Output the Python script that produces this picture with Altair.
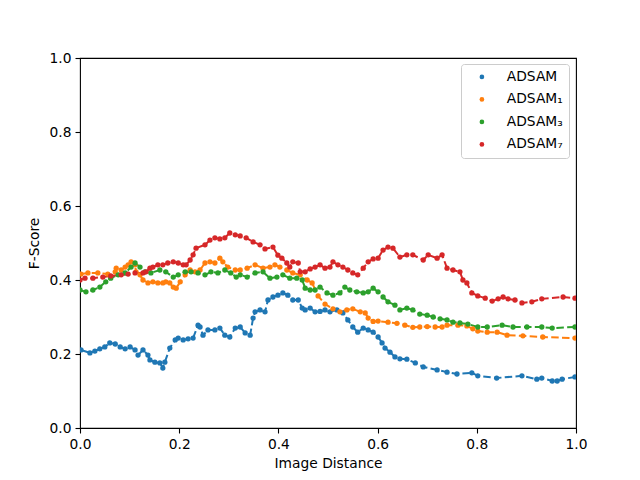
import altair as alt
import pandas as pd

SERIES = ["ADSAM", "ADSAM₁", "ADSAM₃", "ADSAM₇"]
COLORS = ["#1f77b4", "#ff7f0e", "#2ca02c", "#d62728"]

blue_x = [0.002, 0.020, 0.030, 0.040, 0.050, 0.060, 0.071, 0.081, 0.091, 0.101, 0.111, 0.117, 0.127, 0.137,
          0.141, 0.151, 0.161, 0.167, 0.171, 0.181, 0.192, 0.198, 0.208, 0.218, 0.228, 0.238, 0.242, 0.248,
          0.258, 0.272, 0.282, 0.292, 0.302, 0.313, 0.323, 0.333, 0.343, 0.349, 0.353, 0.363, 0.373, 0.379,
          0.389, 0.399, 0.409, 0.419, 0.429, 0.440, 0.448, 0.454, 0.464, 0.474, 0.484, 0.494, 0.504, 0.518,
          0.530, 0.540, 0.550, 0.560, 0.571, 0.581, 0.591, 0.601, 0.609, 0.615, 0.625, 0.635, 0.645, 0.659,
          0.676, 0.692, 0.720, 0.740, 0.760, 0.790, 0.802, 0.840, 0.891, 0.921, 0.931, 0.952, 0.962, 0.972, 0.998]
blue_y = [0.211, 0.203, 0.208, 0.214, 0.219, 0.230, 0.227, 0.219, 0.214, 0.219, 0.211, 0.197, 0.211, 0.197,
          0.184, 0.178, 0.176, 0.162, 0.178, 0.216, 0.238, 0.243, 0.238, 0.241, 0.243, 0.278, 0.273, 0.251,
          0.265, 0.265, 0.270, 0.251, 0.246, 0.270, 0.273, 0.257, 0.251, 0.297, 0.314, 0.319, 0.314, 0.346,
          0.354, 0.359, 0.365, 0.359, 0.346, 0.346, 0.324, 0.319, 0.324, 0.314, 0.315, 0.319, 0.314, 0.319,
          0.311, 0.292, 0.273, 0.259, 0.270, 0.265, 0.259, 0.246, 0.230, 0.216, 0.205, 0.192, 0.187, 0.186,
          0.176, 0.165, 0.157, 0.151, 0.146, 0.149, 0.141, 0.135, 0.141, 0.132, 0.135, 0.127, 0.127, 0.132, 0.138]

orange_x = [0.002, 0.016, 0.036, 0.056, 0.071, 0.073, 0.083, 0.091, 0.097, 0.103, 0.111, 0.113, 0.121, 0.127,
            0.137, 0.147, 0.157, 0.167, 0.173, 0.181, 0.188, 0.194, 0.202, 0.212, 0.222, 0.232, 0.242, 0.252,
            0.262, 0.272, 0.282, 0.288, 0.298, 0.313, 0.323, 0.337, 0.353, 0.369, 0.383, 0.393, 0.403, 0.417,
            0.429, 0.444, 0.458, 0.468, 0.480, 0.494, 0.510, 0.524, 0.538, 0.550, 0.565, 0.575, 0.581, 0.591,
            0.601, 0.621, 0.639, 0.655, 0.671, 0.685, 0.700, 0.716, 0.730, 0.740, 0.762, 0.780, 0.792, 0.802,
            0.821, 0.841, 0.861, 0.893, 0.933, 0.998]
orange_y = [0.416, 0.419, 0.419, 0.416, 0.422, 0.432, 0.427, 0.435, 0.441, 0.449, 0.441, 0.422, 0.414, 0.400,
            0.392, 0.395, 0.392, 0.392, 0.395, 0.392, 0.381, 0.378, 0.395, 0.414, 0.427, 0.422, 0.427, 0.446,
            0.449, 0.446, 0.459, 0.449, 0.435, 0.427, 0.427, 0.432, 0.441, 0.432, 0.435, 0.441, 0.435, 0.427,
            0.419, 0.414, 0.400, 0.392, 0.357, 0.335, 0.322, 0.314, 0.319, 0.322, 0.314, 0.311, 0.297, 0.288,
            0.289, 0.286, 0.283, 0.278, 0.272, 0.273, 0.274, 0.273, 0.273, 0.278, 0.278, 0.276, 0.268, 0.262,
            0.259, 0.259, 0.251, 0.249, 0.246, 0.243]

green_x = [0.000, 0.012, 0.026, 0.040, 0.052, 0.062, 0.077, 0.091, 0.103, 0.111, 0.121, 0.131, 0.143, 0.161,
           0.173, 0.188, 0.198, 0.212, 0.224, 0.238, 0.252, 0.264, 0.278, 0.292, 0.304, 0.315, 0.323, 0.337,
           0.353, 0.369, 0.383, 0.397, 0.409, 0.423, 0.437, 0.448, 0.454, 0.464, 0.474, 0.484, 0.498, 0.510,
           0.524, 0.534, 0.544, 0.558, 0.571, 0.581, 0.591, 0.601, 0.611, 0.621, 0.635, 0.645, 0.659, 0.671,
           0.685, 0.700, 0.712, 0.726, 0.740, 0.752, 0.766, 0.782, 0.802, 0.821, 0.851, 0.873, 0.901, 0.931,
           0.952, 0.998]
green_y = [0.373, 0.368, 0.373, 0.381, 0.395, 0.405, 0.414, 0.419, 0.435, 0.446, 0.435, 0.422, 0.419, 0.427,
           0.422, 0.408, 0.414, 0.422, 0.422, 0.419, 0.414, 0.422, 0.419, 0.427, 0.419, 0.408, 0.414, 0.408,
           0.419, 0.422, 0.405, 0.408, 0.414, 0.405, 0.405, 0.400, 0.378, 0.373, 0.373, 0.381, 0.365, 0.359,
           0.365, 0.381, 0.373, 0.368, 0.365, 0.368, 0.378, 0.368, 0.354, 0.341, 0.332, 0.319, 0.324, 0.319,
           0.308, 0.305, 0.300, 0.295, 0.292, 0.286, 0.284, 0.281, 0.273, 0.273, 0.278, 0.273, 0.273, 0.273,
           0.270, 0.273]

red_x = [0.000, 0.010, 0.026, 0.046, 0.062, 0.083, 0.097, 0.111, 0.127, 0.133, 0.141, 0.147, 0.157, 0.167,
         0.177, 0.188, 0.198, 0.208, 0.214, 0.222, 0.228, 0.234, 0.252, 0.262, 0.272, 0.282, 0.292, 0.302,
         0.313, 0.323, 0.335, 0.349, 0.363, 0.373, 0.389, 0.399, 0.407, 0.417, 0.423, 0.429, 0.440, 0.444,
         0.454, 0.464, 0.474, 0.484, 0.494, 0.504, 0.510, 0.520, 0.530, 0.540, 0.550, 0.560, 0.571, 0.581,
         0.591, 0.601, 0.611, 0.621, 0.631, 0.645, 0.659, 0.671, 0.692, 0.702, 0.720, 0.730, 0.740, 0.752,
         0.766, 0.772, 0.780, 0.790, 0.802, 0.817, 0.831, 0.843, 0.853, 0.863, 0.877, 0.891, 0.911, 0.931,
         0.974, 0.998]
red_y = [0.400, 0.405, 0.405, 0.408, 0.411, 0.414, 0.416, 0.419, 0.419, 0.422, 0.432, 0.435, 0.441, 0.441,
         0.446, 0.449, 0.446, 0.441, 0.441, 0.454, 0.468, 0.486, 0.495, 0.508, 0.514, 0.511, 0.514, 0.527,
         0.522, 0.519, 0.514, 0.503, 0.495, 0.484, 0.489, 0.467, 0.459, 0.446, 0.435, 0.449, 0.446, 0.422,
         0.422, 0.430, 0.435, 0.441, 0.432, 0.435, 0.449, 0.441, 0.435, 0.427, 0.419, 0.414, 0.432, 0.449,
         0.457, 0.459, 0.481, 0.489, 0.486, 0.462, 0.468, 0.468, 0.454, 0.468, 0.459, 0.468, 0.432, 0.427,
         0.422, 0.400, 0.392, 0.365, 0.357, 0.351, 0.343, 0.349, 0.354, 0.349, 0.346, 0.338, 0.341, 0.349,
         0.354, 0.351]

TICKS = [0.0, 0.2, 0.4, 0.6, 0.8, 1.0]

rows = []
for name, xs, ys in zip(SERIES, [blue_x, orange_x, green_x, red_x], [blue_y, orange_y, green_y, red_y]):
    for a, b in zip(xs, ys):
        rows.append({"series": name, "x": a, "y": b})
df = pd.DataFrame(rows)

font = "DejaVu Sans"
xenc = alt.X("x:Q", scale=alt.Scale(domain=[0, 1], nice=False, zero=False),
             axis=alt.Axis(title="Image Distance", values=TICKS, format=".1f"))
yenc = alt.Y("y:Q", scale=alt.Scale(domain=[0, 1], nice=False, zero=False),
             axis=alt.Axis(title="F-Score", values=TICKS, format=".1f"))

lines = alt.Chart(df).mark_line(strokeDash=[7.5, 3.3], strokeWidth=2, clip=True).encode(
    x=xenc, y=yenc,
    stroke=alt.Stroke("series:N", scale=alt.Scale(domain=SERIES, range=COLORS), legend=None),
    order="x:Q",
)
points = alt.Chart(df).mark_circle(size=28, opacity=1, clip=True).encode(
    x=xenc, y=yenc,
    color=alt.Color("series:N", scale=alt.Scale(domain=SERIES, range=COLORS), sort=SERIES,
                    legend=alt.Legend(title=None, orient="none", legendX=381, legendY=6,
                                      symbolType="circle", symbolSize=22, labelFontSize=13.8,
                                      labelFont=font, rowPadding=7.5, padding=6, symbolOffset=8,
                                      labelOffset=18, strokeColor="#cccccc", cornerRadius=3,
                                      fillColor="rgba(255,255,255,0.8)")),
)

chart = alt.layer(lines, points).resolve_scale(color="independent", stroke="independent").properties(
    width=496, height=370,
    autosize=alt.AutoSizeParams(type="none"),
    padding={"left": 72, "top": 50, "right": 56, "bottom": 44},
).configure_view(stroke="black", strokeWidth=1.1).configure_axis(
    grid=False, domain=False, tickColor="black", tickSize=5, tickWidth=1.1,
    labelColor="black", labelFont=font, labelFontSize=13.8, labelPadding=4, labelFlush=False,
    titleColor="black", titleFont=font, titleFontSize=13.8, titleFontWeight="normal",
).configure_axisX(titlePadding=6).configure_axisY(titlePadding=8)

chart.save("out.html", embed_options={"renderer": "svg", "actions": False})
